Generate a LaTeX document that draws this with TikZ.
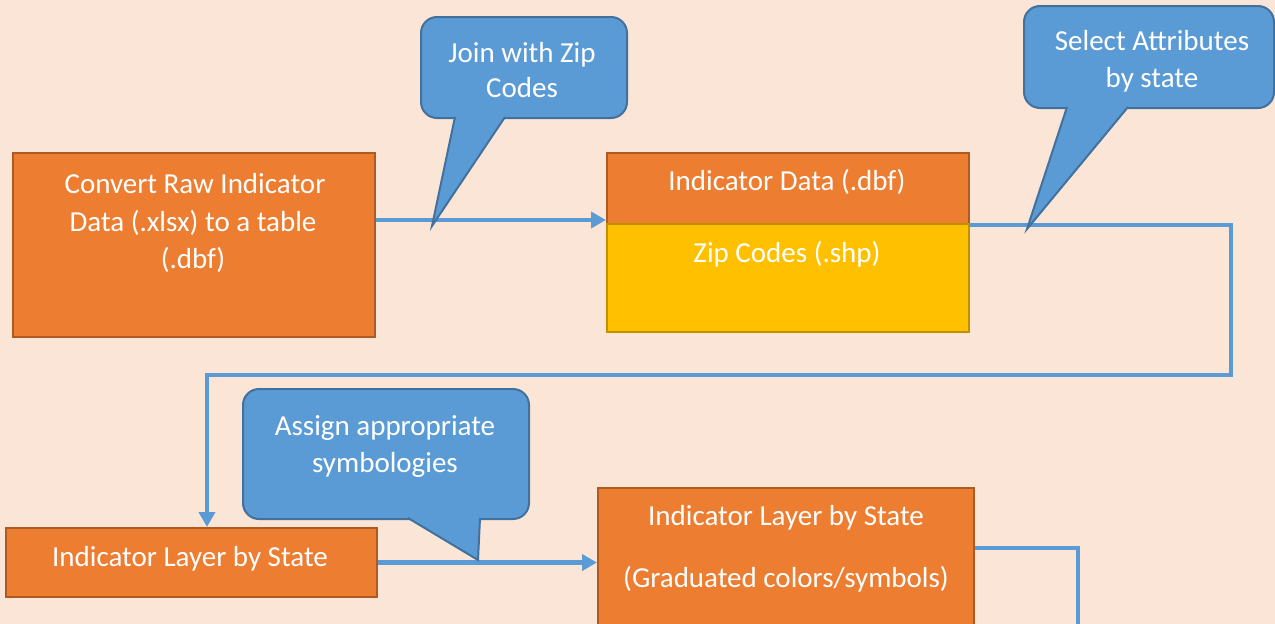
\documentclass[tikz,border=0pt]{standalone}
\usepackage{fontspec}
\setmainfont{Carlito}
\usetikzlibrary{arrows.meta}
\definecolor{bgc}{HTML}{FBE5D6}
\definecolor{orf}{HTML}{ED7D31}
\definecolor{ord}{HTML}{AE5A21}
\definecolor{yef}{HTML}{FFC000}
\definecolor{yed}{HTML}{BF9000}
\definecolor{blf}{HTML}{5B9BD5}
\definecolor{bld}{HTML}{41719C}
\tikzset{
  obox/.style={draw=ord,fill=orf,line width=2pt,inner sep=0pt,anchor=north west},
  ybox/.style={draw=yed,fill=yef,line width=2pt,inner sep=0pt,anchor=north west},
  cbox/.style={draw=bld,fill=blf,line width=2pt,rounded corners=16pt,inner sep=0pt,anchor=north west},
  cptr/.style={draw=bld,line width=2pt,line join=miter},
  txt/.style={text=white,font=\fontsize{29}{35}\selectfont,inner sep=0pt,anchor=base},
  conn/.style={draw=blf,line width=4.6pt},
  tipA/.style={-{Triangle[length=15pt,width=16pt]}}
}
\begin{document}
\begin{tikzpicture}[x=1pt,y=-1pt]
\useasboundingbox (0,0) rectangle (1275,624);
\clip (0,0) rectangle (1275,624);
\fill[bgc] (0,0) rectangle (1275,624);

% boxes
\node[obox,minimum width=362,minimum height=184] (box1) at (12,152) {};
\node[obox,minimum width=362,minimum height=71] (box2t) at (606,152) {};
\node[ybox,minimum width=362,minimum height=108] (box2b) at (606,223) {};
\node[obox,minimum width=371,minimum height=69] (box3) at (5,527) {};
\node[obox,minimum width=376,minimum height=170] (box4) at (597,487) {};

% box texts
\node[txt] (t1a) at (195,193) {Convert Raw Indicator};
\node[txt] (t1b) at (193,231) {Data (.xlsx) to a table};
\node[txt] (t1c) at (193,268) {(.dbf)};
\node[txt] (t2a) at (787,190) {Indicator Data (.dbf)};
\node[txt] (t2b) at (787,262) {Zip Codes (.shp)};
\node[txt] (t3) at (190,566) {Indicator Layer by State};
\node[txt] (t4a) at (786,525) {Indicator Layer by State};
\node[txt] (t4b) at (786,587) {(Graduated colors/symbols)};

% connectors
\coordinate (j1) at (0,220);
\coordinate (k1) at (1231,375);
\coordinate (k2) at (207,375);
\coordinate (m1) at (0,548);
\coordinate (m2) at (1078,650);
\draw[conn,tipA] (box1.east |- j1) -- (box2t.west |- j1);
\draw[conn,tipA] (box2t.south east) -| (k1) -- (k2) -- (box3.north -| k2);
\draw[conn,tipA] (box3.east) -- (box4.west |- box3.east);
\draw[conn] (box4.east |- m1) -| (m2);

% callout 1
\node[cbox,minimum width=206,minimum height=101] (c1) at (420,16) {};
\fill[blf] (455,117) -- (505,117) -- (432,226) -- cycle;
\fill[blf] (456,114) rectangle (504,119);
\draw[cptr] (455,117) -- (432,226) -- (505,117);
\node[txt] (c1a) at (522,62) {Join with Zip};
\node[txt] (c1b) at (522,97) {Codes};

% callout 2
\node[cbox,minimum width=250,minimum height=102] (c2) at (1023,5) {};
\fill[blf] (1067,107) -- (1128,107) -- (1027,229) -- cycle;
\fill[blf] (1068,104) rectangle (1127,109);
\draw[cptr] (1067,107) -- (1027,229) -- (1128,107);
\node[txt] (c2a) at (1152,50) {Select Attributes};
\node[txt] (c2b) at (1152,87) {by state};

% callout 3
\node[cbox,minimum width=286,minimum height=130] (c3) at (242,388) {};
\fill[blf] (408,518) -- (480,518) -- (478,560) -- cycle;
\fill[blf] (409,515) rectangle (479,520);
\draw[cptr] (408,518) -- (478,560) -- (480,518);
\node[txt] (c3a) at (385,435) {Assign appropriate};
\node[txt] (c3b) at (385,472) {symbologies};
\end{tikzpicture}
\end{document}
